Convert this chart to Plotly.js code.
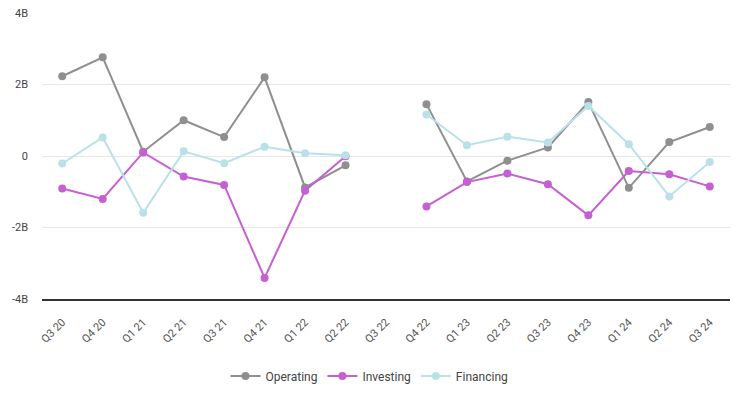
<!DOCTYPE html>
<html>
<head>
<meta charset="utf-8">
<script src="https://cdn.plot.ly/plotly-3.0.1.min.js"></script>
<style>html,body{margin:0;padding:0;background:#fff}#chart{width:739px;height:398px}</style>
</head>
<body>
<div id="chart"></div>
<script>
const quarters = ["Q3 20","Q4 20","Q1 21","Q2 21","Q3 21","Q4 21","Q1 22","Q2 22","Q3 22","Q4 22","Q1 23","Q2 23","Q3 23","Q4 23","Q1 24","Q2 24","Q3 24"];
const operating = [2.23e9, 2.76e9, 0.12e9, 1.0e9, 0.53e9, 2.2e9, -0.88e9, -0.26e9, null, 1.45e9, -0.71e9, -0.13e9, 0.24e9, 1.51e9, -0.89e9, 0.39e9, 0.81e9];
const investing = [-0.91e9, -1.2e9, 0.1e9, -0.575e9, -0.81e9, -3.41e9, -0.97e9, -0.01e9, null, -1.41e9, -0.73e9, -0.49e9, -0.79e9, -1.66e9, -0.42e9, -0.51e9, -0.85e9];
const financing = [-0.21e9, 0.52e9, -1.59e9, 0.13e9, -0.2e9, 0.26e9, 0.08e9, 0.02e9, null, 1.16e9, 0.3e9, 0.54e9, 0.38e9, 1.4e9, 0.33e9, -1.13e9, -0.17e9];
const yTickVals = [-4e9, -2e9, 0, 2e9, 4e9];
const yTickText = ["-4B", "-2B", "0", "2B", "4B"];

function series(name, y, color) {
  return {
    type: "scatter", mode: "lines+markers", name: name,
    x: quarters, y: y, connectgaps: false,
    line: {color: color, width: 2},
    marker: {color: color, size: 8}
  };
}
const data = [
  series("Operating", operating, "#8f8f8f"),
  series("Investing", investing, "#c65fd1"),
  series("Financing", financing, "#b9e1e7")
];
const layout = {
  width: 739, height: 398,
  margin: {l: 42, r: 9, t: 13, b: 99},
  paper_bgcolor: "#fff", plot_bgcolor: "#fff",
  font: {family: "Roboto, 'Open Sans', sans-serif", size: 11, color: "#444"},
  showlegend: true,
  legend: {orientation: "h", x: 0.5, xref: "container", xanchor: "center",
           y: 0.055, yref: "container", yanchor: "middle",
           font: {size: 12, color: "#444"}, itemwidth: 30},
  xaxis: {
    type: "category", range: [-0.5, 16.5], automargin: false,
    tickangle: -45, showgrid: false, zeroline: false,
    showline: true, linecolor: "#333", linewidth: 1.5,
    ticks: "", ticklen: 0, ticklabelstandoff: 11,
    tickfont: {size: 11, color: "#555"}
  },
  yaxis: {
    range: [-4e9, 4e9], tickvals: yTickVals, ticktext: yTickText, automargin: false,
    showgrid: true, gridcolor: "#e6e6e6", gridwidth: 1,
    zeroline: false, showline: false, ticks: "", ticklen: 0, ticklabelstandoff: 13,
    tickfont: {size: 11, color: "#444"}
  },
  hovermode: false
};
Plotly.newPlot("chart", data, layout, {displayModeBar: false, staticPlot: true});
</script>
</body>
</html>
